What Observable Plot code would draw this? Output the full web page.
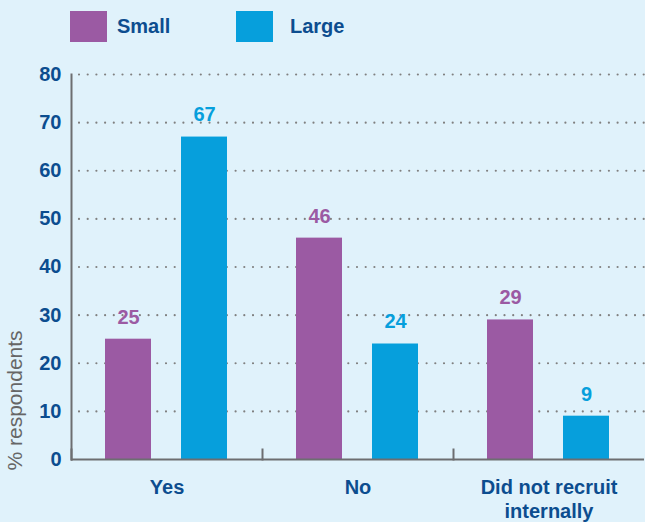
<!DOCTYPE html>
<html>
<head>
<meta charset="utf-8">
<script src="https://cdn.jsdelivr.net/npm/d3@7"></script>
<script src="https://cdn.jsdelivr.net/npm/@observablehq/plot@0.6"></script>
<style>
  html, body { margin: 0; padding: 0; background: #e0f2fb; overflow: hidden; }
  body { width: 645px; height: 522px; font-family: "Liberation Sans", Arial, sans-serif; }
  #legend { height: 50px; box-sizing: border-box; padding: 11px 0 0 70px; }
  #legend .lg-swatches { margin: 0; min-height: 0; height: 31px; font-family: "Liberation Sans", Arial, sans-serif; font-size: 20px; font-weight: bold; color: #0c4d8f; display: flex; align-items: center; }
  #legend .lg-swatch { margin: 0; display: inline-flex; align-items: center; }
  #legend .lg-swatch:nth-of-type(1) { width: 166px; }
  #legend .lg-swatch:nth-of-type(1) > svg { margin-right: 10px; }
  #legend .lg-swatch:nth-of-type(2) > svg { margin-right: 17px; }
  #chart svg { display: block; }
</style>
</head>
<body>
<div id="legend"></div>
<div id="chart"></div>
<script>
const groups = ["Yes", "No", "Did not recruit internally"];
const sizes = ["Small", "Large"];
const smallValues = [25, 46, 29];
const largeValues = [67, 24, 9];
const yTicks = [0, 10, 20, 30, 40, 50, 60, 70, 80];
const groupLabels = ["Yes", "No", "Did not recruit\ninternally"];
const yLabel = "% respondents";

const colors = ["#9b5aa3", "#069fdc"];
const textBlue = "#0c4d8f";
const axisGrey = "#6d6e71";

const data = groups.flatMap((g, i) => [
  {group: g, size: "Small", value: smallValues[i]},
  {group: g, size: "Large", value: largeValues[i]}
]);

const legend = Plot.legend({
  color: {domain: sizes, range: colors},
  legend: "swatches",
  swatchWidth: 37,
  swatchHeight: 31,
  className: "lg"
});
document.getElementById("legend").append(legend);

const chart = Plot.plot({
  width: 645,
  height: 472,
  marginTop: 24,
  marginBottom: 63,
  marginLeft: 70,
  marginRight: 0,
  style: {background: "transparent", fontFamily: "'Liberation Sans', Arial, sans-serif", overflow: "visible"},
  fx: {domain: groups, padding: 0, label: null},
  x: {domain: sizes, paddingInner: 0.39, paddingOuter: 0.44, axis: null},
  y: {domain: [0, 80]},
  color: {domain: sizes, range: colors},
  marks: [
    Plot.gridY(yTicks.filter(t => t > 0), {stroke: "#808080", strokeOpacity: 1, strokeWidth: 2.2, strokeDasharray: "0,8.7", strokeDashoffset: -8, strokeLinecap: "round"}),
    Plot.barY(data, {fx: "group", x: "size", y: "value", fill: "size"}),
    Plot.ruleY([0], {stroke: axisGrey, strokeWidth: 2}),
    Plot.frame({anchor: "left", facetAnchor: "left", stroke: axisGrey, strokeWidth: 2}),
    Plot.frame({anchor: "left", insetTop: 375, stroke: axisGrey, strokeWidth: 2}),
    Plot.axisY({ticks: yTicks, tickSize: 0, tickPadding: 10, fontSize: 20, fontWeight: "bold", fill: textBlue, label: null}),
    Plot.axisFx({anchor: "bottom", tickSize: 0, tickPadding: 17, fontSize: 20, fontWeight: "bold", fill: textBlue, label: null, lineHeight: 1.2,
      tickFormat: d => groupLabels[groups.indexOf(d)]}),
    Plot.text(data, {fx: "group", x: "size", y: "value", text: d => String(d.value), fill: "size", dy: -22, fontSize: 20, fontWeight: "bold"}),
    Plot.text([yLabel], {text: d => d, frameAnchor: "bottom-left", facetAnchor: "left", rotate: -90, textAnchor: "start", dx: -50, dy: 11, fontSize: 21, fill: "#666"})
  ]
});
document.getElementById("chart").append(chart);
</script>
</body>
</html>
